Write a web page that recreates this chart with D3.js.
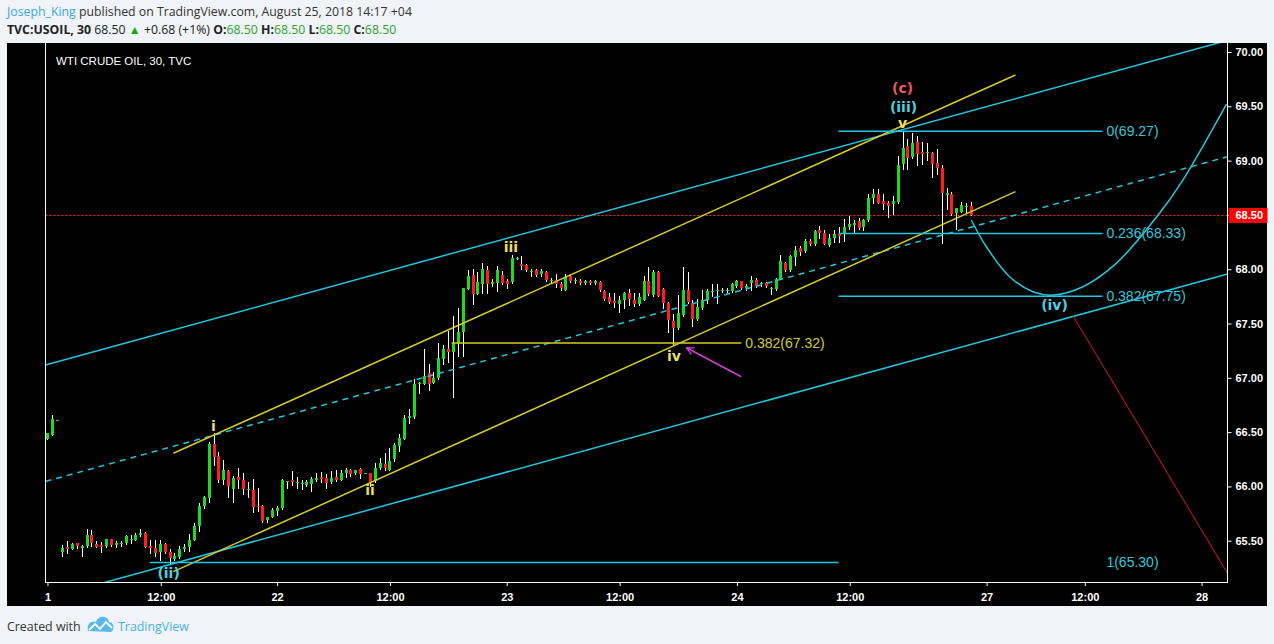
<!DOCTYPE html>
<html>
<head>
<meta charset="utf-8">
<script src="https://d3js.org/d3.v7.min.js"></script>
<style>
  body { margin: 0; background: #f0f3f7; }
  svg { display: block; }
</style>
</head>
<body>
<svg width="1274" height="644"></svg>
<script>
// 30 min bars, TVC:USOIL
var opens  = [66.44,66.47,66.61,
  65.40,65.44,65.42,65.48,65.43,65.45,65.55,65.47,65.46,65.45,65.52,65.46,65.47,65.48,65.51,65.51,65.55,65.57,
  65.45,65.43,65.40,65.47,65.40,65.33,65.35,65.42,65.44,65.51,65.64,65.82,65.89,66.39,66.28,66.06,66.14,65.98,
  66.09,66.06,65.97,65.97,65.82,65.82,65.69,65.72,65.77,65.80,66.05,66.06,66.03,66.02,66.01,66.02,66.06,66.09,
  66.08,66.04,66.09,66.06,66.12,66.15,66.12,66.16,66.12,66.12,66.05,66.17,66.21,66.15,66.25,66.37,66.44,66.63,
  66.64,66.94,66.94,67.04,66.95,67.00,67.17,67.27,67.24,67.32,67.42,67.82,67.95,67.77,67.86,67.99,67.86,67.87,
  67.95,67.89,67.88,68.10,68.05,68.04,67.97,67.99,67.96,67.97,67.90,67.90,67.86,67.81,67.94,67.90,67.89,67.87,
  67.89,67.87,67.88,67.80,67.74,67.71,67.68,67.72,67.78,67.72,67.68,67.72,67.89,67.76,67.97,67.82,67.69,67.52,
  67.46,67.58,67.81,67.69,67.54,67.64,67.72,67.80,67.80,67.81,67.81,67.80,67.85,67.89,67.83,67.87,67.90,67.86,
  67.87,67.83,67.82,67.91,68.06,67.99,68.11,68.20,68.17,68.26,68.23,68.36,68.33,68.22,68.29,68.32,68.32,68.39,
  68.41,68.44,68.39,68.45,68.66,68.69,68.63,68.61,68.60,68.62,68.97,69.13,69.03,69.17,69.08,69.07,69.07,68.98,
  68.93,68.68,68.69,68.52,68.53,68.58,68.58];
var highs  = [66.49,66.66,66.61,
  65.46,65.50,65.48,65.48,65.46,65.61,65.60,65.50,65.49,65.52,65.52,65.50,65.50,65.55,65.55,65.57,65.61,65.58,
  65.51,65.51,65.51,65.48,65.42,65.39,65.45,65.47,65.56,65.66,65.85,65.91,66.41,66.49,66.32,66.24,66.15,66.10,
  66.17,66.12,66.04,66.07,65.99,65.83,65.72,65.80,65.82,66.07,66.05,66.14,66.09,66.06,66.06,66.09,66.12,66.13,
  66.11,66.14,66.15,66.15,66.17,66.16,66.15,66.17,66.12,66.12,66.22,66.26,66.31,66.35,66.40,66.48,66.66,66.71,
  66.99,66.96,67.27,67.13,67.05,67.32,67.30,67.43,67.57,67.64,67.83,67.99,68.00,67.97,68.06,68.03,67.91,68.03,
  67.98,67.91,68.13,68.11,68.12,68.05,68.00,68.00,68.00,67.98,67.92,67.96,67.88,67.96,67.95,67.92,67.91,67.90,
  67.90,67.90,67.89,67.81,67.78,67.78,67.75,67.79,67.82,67.78,67.78,67.94,68.02,67.99,67.98,67.83,67.70,67.59,
  67.76,68.02,67.97,67.72,67.73,67.81,67.82,67.86,67.86,67.83,67.83,67.87,67.90,67.89,67.86,67.94,67.92,67.88,
  67.88,67.84,67.92,68.13,68.07,68.13,68.21,68.21,68.28,68.28,68.36,68.40,68.36,68.32,68.36,68.39,68.46,68.49,
  68.45,68.47,68.46,68.69,68.74,68.74,68.69,68.63,68.67,69.04,69.27,69.20,69.25,69.23,69.17,69.16,69.08,69.11,
  68.96,68.75,68.71,68.56,68.62,68.61,68.62];
var lows   = [66.44,66.47,66.61,
  65.36,65.39,65.42,65.43,65.36,65.44,65.45,65.44,65.40,65.44,65.45,65.44,65.45,65.47,65.48,65.51,65.54,65.44,
  65.39,65.36,65.32,65.39,65.29,65.32,65.34,65.41,65.41,65.51,65.59,65.80,65.86,66.20,66.04,66.02,65.90,65.86,
  65.99,65.93,65.90,65.76,65.77,65.67,65.67,65.72,65.74,65.79,65.99,66.01,65.99,65.98,66.00,65.96,66.05,66.04,
  65.99,66.03,66.05,66.06,66.09,66.10,66.11,66.08,66.12,66.00,66.04,66.16,66.15,66.15,66.23,66.33,66.44,66.58,
  66.63,66.86,66.94,66.89,66.95,66.99,67.13,67.15,66.82,67.20,67.20,67.82,67.68,67.77,67.78,67.78,67.85,67.80,
  67.86,67.83,67.87,68.09,68.00,67.98,67.94,67.94,67.94,67.89,67.87,67.84,67.81,67.81,67.88,67.87,67.86,67.86,
  67.86,67.86,67.80,67.72,67.69,67.65,67.61,67.64,67.67,67.66,67.67,67.72,67.76,67.75,67.75,67.64,67.42,67.30,
  67.45,67.57,67.69,67.48,67.53,67.63,67.69,67.75,67.69,67.79,67.79,67.79,67.84,67.82,67.81,67.81,67.84,67.85,
  67.84,67.77,67.81,67.91,67.98,67.98,68.04,68.13,68.16,68.22,68.22,68.29,68.23,68.21,68.25,68.25,68.26,68.37,
  68.34,68.37,68.36,68.44,68.61,68.61,68.55,68.48,68.51,68.61,68.92,68.92,69.02,68.96,68.97,69.01,68.85,68.88,
  68.24,68.55,68.50,68.37,68.53,68.53,68.50];
var closes = [66.49,66.62,66.61,
  65.43,65.42,65.47,65.45,65.45,65.55,65.48,65.44,65.44,65.52,65.46,65.48,65.48,65.54,65.52,65.55,65.57,65.44,
  65.43,65.39,65.47,65.40,65.34,65.36,65.42,65.44,65.51,65.64,65.82,65.90,66.39,66.27,66.06,66.15,66.00,66.08,
  66.06,65.98,65.98,65.81,65.81,65.68,65.72,65.78,65.80,66.06,66.05,66.04,66.04,66.03,66.04,66.07,66.08,66.07,
  66.03,66.08,66.06,66.12,66.15,66.11,66.15,66.11,66.12,66.04,66.17,66.22,66.17,66.23,66.38,66.45,66.63,66.65,
  66.94,66.95,67.02,66.94,67.00,67.18,67.27,67.24,67.32,67.42,67.83,67.94,67.77,67.88,68.00,67.86,67.88,67.99,
  67.87,67.86,68.10,68.10,68.03,67.99,67.98,67.95,67.98,67.90,67.90,67.86,67.83,67.93,67.89,67.90,67.87,67.89,
  67.87,67.89,67.81,67.73,67.70,67.69,67.72,67.78,67.73,67.68,67.74,67.89,67.77,67.97,67.75,67.69,67.53,67.46,
  67.60,67.81,67.70,67.54,67.65,67.72,67.80,67.80,67.81,67.81,67.81,67.86,67.89,67.83,67.85,67.90,67.85,67.87,
  67.85,67.83,67.91,68.08,67.99,68.12,68.18,68.16,68.26,68.23,68.35,68.33,68.23,68.29,68.32,68.31,68.39,68.42,
  68.43,68.38,68.45,68.66,68.69,68.61,68.60,68.58,68.63,68.96,69.12,69.02,69.16,69.06,69.06,69.08,68.97,68.93,
  68.70,68.70,68.51,68.56,68.59,68.58,68.50];

// time axis: bar index of each label
var tickIdx    = [0, 23.2, 47, 70.1, 94, 117.1, 141.1, 164.2, 192.2, 212.3, 236.2];
var tickLabels = ["1", "12:00", "22", "12:00", "23", "12:00", "24", "12:00", "27", "12:00", "28"];
var priceTicks = [65.5, 66, 66.5, 67, 67.5, 68, 68.5, 69, 69.5, 70];
var lastPrice = 68.50;

// fib retracement (iii) -> (iv)
var fibRatios = ["0", "0.236", "0.382", "1"];
var fibPrices = [69.27, 68.33, 67.75, 65.30];
var fibFrom   = [161.9, 161.9, 161.9, 20.9];
var fibTo     = [215.9, 215.9, 215.9, 161.9];
var fibLabelAt = 215.9;
var fib2Price = 67.32;

// channels: [bar, price] end points
var cyanTop    = [[-0.4, 67.118], [241.5, 70.107]];
var cyanMid    = [[-0.4, 66.046], [241.5, 69.036]];
var cyanLow    = [[-0.4, 64.966], [241.5, 67.956]];
var yellowTop  = [[25.77, 66.305], [198.1, 69.788]];
var yellowLow  = [[25.77, 65.216], [198.1, 68.715]];
var redPath    = [[209.9, 67.569], [243.5, 65.05]];
var arrowPath  = [[142.0, 67.010], [130.8, 67.277]];
var wavePath   = [[189.07, 68.453], [192.14, 68.207], [196.91, 67.931], [201.68, 67.793], [205.77, 67.762],
                  [211.90, 67.839], [218.73, 68.054], [227.59, 68.515], [232.36, 68.821], [241.30, 69.521]];

// wave counts
var minorText  = ["i", "ii", "iii", "iv", "v"];
var minorBar   = [33.95, 66.0, 94.85, 128.2, 175.0];
var minorPrice = [66.556, 65.967, 68.204, 67.201, 69.345];
var majorText  = ["(ii)", "(iii)", "(iv)"];
var majorBar   = [24.8, 175.2, 206.1];
var majorPrice = [65.203, 69.49, 67.670];

var svg = d3.select("svg"),
    width = +svg.attr("width"),
    height = +svg.attr("height");

var plotL = 45.5, plotR = 1227.5, plotT = 43, plotB = 582;

var x = d3.scaleLinear().domain([-0.4, 241.5]).range([plotL, plotR]);
var y = d3.scaleLinear().domain([65.12, 70.083]).range([plotB, plotT]);

var cyan = "#22c7dd", yellow = "#d6cc22", label = "Liberation Sans, Arial, sans-serif";

svg.append("rect").attr("width", width).attr("height", height).attr("fill", "#f0f3f7");
svg.append("rect").attr("x", 7).attr("y", 43).attr("width", 1260).attr("height", 563).attr("fill", "#000");

var defs = svg.append("defs");
defs.append("clipPath").attr("id", "plot").append("rect")
    .attr("x", plotL).attr("y", plotT).attr("width", plotR - plotL).attr("height", plotB - plotT);
defs.append("marker").attr("id", "head")
    .attr("viewBox", "0 0 10 10").attr("refX", 9).attr("refY", 5)
    .attr("markerWidth", 9).attr("markerHeight", 9).attr("markerUnits", "userSpaceOnUse")
    .attr("orient", "auto")
  .append("path").attr("d", "M1,1L9,5L1,9").attr("fill", "none").attr("stroke", "#d23fd6").attr("stroke-width", 1.5);

// header
var head = svg.append("g").attr("font-family", "Open Sans, sans-serif").attr("font-size", 12.3);
var t1 = head.append("text").attr("x", 7).attr("y", 16);
t1.append("tspan").attr("fill", "#3ba9dc").text("Joseph_King");
t1.append("tspan").attr("fill", "#333").text(" published on TradingView.com, August 25, 2018 14:17 +04");

var t2 = head.append("text").attr("x", 7).attr("y", 34).attr("fill", "#222");
t2.append("tspan").attr("font-weight", "bold").text("TVC:USOIL, 30");
t2.append("tspan").text(" " + lastPrice.toFixed(2) + " ");
t2.append("tspan").attr("fill", "#1aa51a").attr("font-size", 12).text("\u25B2");
t2.append("tspan").text(" +0.68 (+1%) ");
["O", "H", "L", "C"].forEach(function(k, i) {
  t2.append("tspan").attr("font-weight", "bold").text((i ? " " : "") + k + ":");
  t2.append("tspan").attr("fill", "#2ca52c").text(lastPrice.toFixed(2));
});

var plot = svg.append("g").attr("clip-path", "url(#plot)");

// last price line
plot.append("line")
    .attr("x1", plotL).attr("x2", plotR)
    .attr("y1", Math.round(y(lastPrice)) + 0.5).attr("y2", Math.round(y(lastPrice)) + 0.5)
    .attr("stroke", "#ff2a2a").attr("stroke-dasharray", "2,2");

// candles
var bars = opens.map(function(o, i) {
  return {i: i, o: o, h: highs[i], l: lows[i], c: closes[i]};
});

var candle = plot.append("g").attr("shape-rendering", "crispEdges")
    .selectAll("g").data(bars).enter().append("g");

candle.append("line")
    .attr("x1", function(d) { return Math.round(x(d.i)) + 0.5; })
    .attr("x2", function(d) { return Math.round(x(d.i)) + 0.5; })
    .attr("y1", function(d) { return Math.round(y(d.h)); })
    .attr("y2", function(d) { return Math.round(y(d.l)) + 1; })
    .attr("stroke", "#fff");

candle.append("rect")
    .attr("x", function(d) { return Math.round(x(d.i)) - 1; })
    .attr("y", function(d) { return Math.round(y(Math.max(d.o, d.c))); })
    .attr("width", 3)
    .attr("height", function(d) { return Math.max(1, Math.round(y(Math.min(d.o, d.c))) - Math.round(y(Math.max(d.o, d.c)))); })
    .attr("fill", function(d) { return d.c >= d.o ? "#1fd81f" : "#ff1f1f"; });

// drawings
var line = d3.line()
    .x(function(d) { return x(d[0]); })
    .y(function(d) { return y(d[1]); });

function draw(pts, color, dash) {
  return plot.append("path").attr("d", line(pts))
      .attr("fill", "none").attr("stroke", color).attr("stroke-width", 1.5)
      .attr("stroke-dasharray", dash || null);
}

draw(cyanTop, cyan);
draw(cyanMid, cyan, "6,5");
draw(cyanLow, cyan);
draw(yellowTop, yellow);
draw(yellowLow, yellow);

fibPrices.forEach(function(p, k) {
  draw([[fibFrom[k], p], [fibTo[k], p]], cyan);
  plot.append("text")
      .attr("x", x(fibLabelAt) + 4).attr("y", y(p)).attr("dy", "0.35em")
      .attr("font-family", label).attr("font-size", 14).attr("fill", "#36c6d8")
      .text(fibRatios[k] + "(" + p.toFixed(2) + ")");
});

draw([[82.7, fib2Price], [142.0, fib2Price]], yellow);
plot.append("text")
    .attr("x", x(142.0) + 4).attr("y", y(fib2Price)).attr("dy", "0.35em")
    .attr("font-family", label).attr("font-size", 14).attr("fill", yellow)
    .text("0.382(" + fib2Price.toFixed(2) + ")");

plot.append("path").attr("d", line.curve(d3.curveCatmullRom)(wavePath))
    .attr("fill", "none").attr("stroke", cyan).attr("stroke-width", 1.5);
line.curve(d3.curveLinear);

draw(redPath, "#e01818").attr("stroke-width", 1);
draw(arrowPath, "#d23fd6").attr("marker-end", "url(#head)");

plot.selectAll(".minor").data(minorText).enter().append("text")
    .attr("x", function(d, i) { return x(minorBar[i]); })
    .attr("y", function(d, i) { return y(minorPrice[i]); })
    .attr("dy", "0.35em").attr("text-anchor", "middle")
    .attr("font-family", "DejaVu Sans, sans-serif").attr("font-weight", "bold").attr("font-size", 14)
    .attr("fill", "#ebdf5e")
    .text(function(d) { return d; });

plot.selectAll(".major").data(majorText).enter().append("text")
    .attr("x", function(d, i) { return x(majorBar[i]); })
    .attr("y", function(d, i) { return y(majorPrice[i]); })
    .attr("dy", "0.35em").attr("text-anchor", "middle")
    .attr("font-family", "DejaVu Sans, sans-serif").attr("font-weight", "bold").attr("font-size", 14)
    .attr("fill", "#4fd0e0")
    .text(function(d) { return d; });

plot.append("text")
    .attr("x", x(175.0)).attr("y", y(69.67)).attr("dy", "0.35em").attr("text-anchor", "middle")
    .attr("font-family", "DejaVu Sans, sans-serif").attr("font-weight", "bold").attr("font-size", 14)
    .attr("fill", "#f25656").text("(c)");

svg.append("text")
    .attr("x", 56).attr("y", 65)
    .attr("font-family", label).attr("font-size", 11.5).attr("fill", "#fff")
    .text("WTI CRUDE OIL, 30, TVC");

// axes and frame
var axisX = svg.append("g")
    .attr("transform", "translate(0," + plotB + ")")
    .call(d3.axisBottom(x).tickValues(tickIdx).tickSize(4)
      .tickFormat(function(d, i) { return tickLabels[i]; }));

var axisY = svg.append("g")
    .attr("transform", "translate(" + plotR + ",0)")
    .call(d3.axisRight(y).tickValues(priceTicks).tickSize(4).tickFormat(d3.format(".2f")));

[axisX, axisY].forEach(function(a) {
  a.select(".domain").remove();
  a.selectAll("line").attr("stroke", "#fff");
  a.selectAll("text").attr("fill", "#fff").attr("font-family", label)
      .attr("font-size", 11).attr("font-weight", "bold");
});
axisX.selectAll("text").attr("dy", "1.1em");
axisY.selectAll("text").attr("x", 8);

svg.append("path")
    .attr("d", "M" + plotL + "," + plotT + "V" + plotB + "H" + plotR + "V" + plotT)
    .attr("fill", "none").attr("stroke", "#fff").attr("shape-rendering", "crispEdges");

// last price tag
svg.append("rect")
    .attr("x", plotR + 1).attr("y", Math.round(y(lastPrice)) - 7)
    .attr("width", 39).attr("height", 15).attr("fill", "#ff0000");
svg.append("text")
    .attr("x", plotR + 8).attr("y", y(lastPrice)).attr("dy", "0.35em")
    .attr("font-family", label).attr("font-size", 11).attr("font-weight", "bold").attr("fill", "#fff")
    .text(lastPrice.toFixed(2));

// footer
var foot = svg.append("g").attr("font-family", "Open Sans, sans-serif").attr("font-size", 12.4);
foot.append("text").attr("x", 7).attr("y", 631).attr("fill", "#333").text("Created with");
foot.append("path")
    .attr("d", "M88,631 C86,624 92,620 96,622 C98,615 108,615 109,622 C114,622 115,630 111,632 Z")
    .attr("fill", "#5bb9ea");
foot.append("path")
    .attr("d", "M89,630 L95,624 L100,629 L106,622 L112,628")
    .attr("fill", "none").attr("stroke", "#fff").attr("stroke-width", 1.8);
foot.append("text").attr("x", 118).attr("y", 631).attr("fill", "#49b1e3").text("TradingView");
</script>
</body>
</html>
